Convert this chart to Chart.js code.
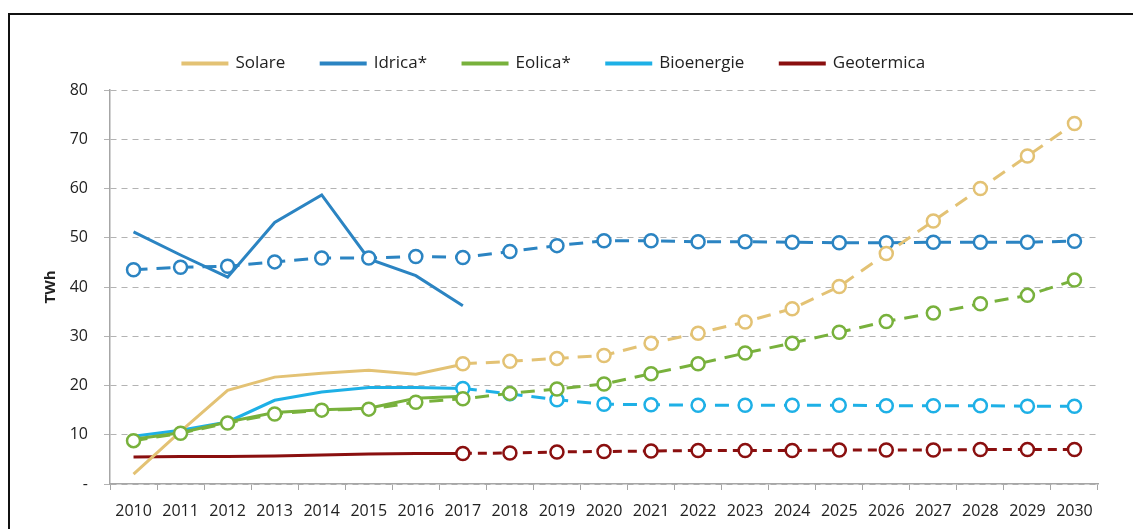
<!DOCTYPE html>
<html>
<head>
<meta charset="utf-8">
<script src="https://cdn.jsdelivr.net/npm/chart.js@4.4.1/dist/chart.umd.min.js"></script>
<style>
  body { margin: 0; background: #fff; }
  #wrap { position: relative; width: 1133px; height: 529px; }
  #frame { position: absolute; left: 8px; top: 13px; width: 2000px; height: 2000px;
           border-left: 2px solid #111; border-top: 2px solid #111; pointer-events: none; }
</style>
</head>
<body>
<div id="wrap">
  <canvas id="energyChart" width="1133" height="529"></canvas>
  <div id="frame"></div>
</div>
<script>
const years = ['2010', '2011', '2012', '2013', '2014', '2015', '2016', '2017', '2018', '2019', '2020',
               '2021', '2022', '2023', '2024', '2025', '2026', '2027', '2028', '2029', '2030'];

// historic values 2010-2017 (solid lines)
const solareStorico = [2, 10.7, 19, 21.7, 22.5, 23.1, 22.3, 24.3];
const idricaStorico = [51.2, 46.5, 42, 53.1, 58.7, 45.7, 42.3, 36.2];
const eolicaStorico = [9.1, 10.4, 12.6, 14.5, 15.1, 15.4, 17.4, 17.8];
const bioStorico = [9.7, 10.9, 12.6, 17, 18.7, 19.6, 19.6, 19.4];
const geoStorico = [5.5, 5.6, 5.6, 5.7, 5.9, 6.1, 6.2, 6.2];

// scenario values (dashed lines with circles)
const solareScenario = [null, null, null, null, null, null, null,
  24.4, 24.9, 25.5, 26.1, 28.6, 30.6, 32.9, 35.6, 40.1, 46.8, 53.4, 60, 66.6, 73.2];
const idricaScenario = [43.5, 44, 44.2, 45.1, 45.9, 45.9, 46.2, 46, 47.2, 48.4, 49.4,
  49.4, 49.2, 49.2, 49.1, 49, 49, 49.1, 49.1, 49.1, 49.3];
const eolicaScenario = [8.8, 10.3, 12.4, 14.2, 15, 15.2, 16.6, 17.3, 18.4, 19.3, 20.3,
  22.4, 24.4, 26.6, 28.6, 30.8, 33, 34.7, 36.6, 38.3, 41.4];
const bioScenario = [null, null, null, null, null, null, null,
  19.4, 18.3, 17.1, 16.2, 16.1, 16, 16, 16, 16, 15.9, 15.9, 15.9, 15.8, 15.8];
const geoScenario = [null, null, null, null, null, null, null,
  6.2, 6.3, 6.5, 6.6, 6.7, 6.8, 6.8, 6.8, 6.9, 6.9, 6.9, 7, 7, 7];

const yTicks = [0, 10, 20, 30, 40, 50, 60, 70, 80];

const colori = {
  solare: '#E3C274',
  idrica: '#2B84C2',
  eolica: '#78B13C',
  bio: '#1EB0E6',
  geo: '#8A0F0F'
};

function storico(label, data, color) {
  return {
    label: label,
    data: data,
    borderColor: color,
    backgroundColor: color,
    borderWidth: 3,
    pointRadius: 0,
    tension: 0,
    order: 2
  };
}

function scenario(label, data, color, dash) {
  return {
    label: label,
    data: data,
    borderColor: color,
    backgroundColor: color,
    borderWidth: 3,
    borderDash: dash,
    pointRadius: 6.5,
    pointBorderWidth: 2.5,
    pointBackgroundColor: '#fff',
    pointBorderColor: color,
    tension: 0,
    order: 1
  };
}

// a bit of extra room under the legend
const legendSpace = {
  id: 'legendSpace',
  beforeInit(chart) {
    const fit = chart.legend.fit;
    chart.legend.fit = function() {
      fit.bind(chart.legend)();
      this.height += 8;
    };
  }
};

const font = "'Open Sans', 'Liberation Sans', sans-serif";

const ctx = document.getElementById('energyChart').getContext('2d');
const chart = new Chart(ctx, {
  type: 'line',
  data: {
    labels: years,
    datasets: [
      storico('Solare', solareStorico, colori.solare),
      storico('Idrica*', idricaStorico, colori.idrica),
      storico('Eolica*', eolicaStorico, colori.eolica),
      storico('Bioenergie', bioStorico, colori.bio),
      storico('Geotermica', geoStorico, colori.geo),
      scenario('Solare scenario', solareScenario, colori.solare, [14, 9]),
      scenario('Idrica scenario', idricaScenario, colori.idrica, [14, 9]),
      scenario('Eolica scenario', eolicaScenario, colori.eolica, [14, 9]),
      scenario('Bioenergie scenario', bioScenario, colori.bio, [14, 9]),
      scenario('Geotermica scenario', geoScenario, colori.geo, [9, 6])
    ]
  },
  plugins: [legendSpace],
  options: {
    responsive: false,
    animation: false,
    layout: { padding: { top: 19, left: 10, right: 35, bottom: 0 } },
    plugins: {
      tooltip: { enabled: false },
      legend: {
        position: 'top',
        labels: {
          filter: item => item.datasetIndex < 5,
          boxWidth: 44,
          boxHeight: 1,
          padding: 36,
          color: '#222',
          font: { family: font, size: 17 }
        }
      }
    },
    scales: {
      x: {
        offset: true,
        afterFit: s => { s.height = 45; },
        grid: {
          offset: true,
          drawOnChartArea: false,
          drawTicks: true,
          tickLength: 6,
          color: '#a6a6a6'
        },
        border: { color: '#a6a6a6', width: 1.5 },
        ticks: {
          color: '#222',
          padding: 12,
          maxRotation: 0,
          autoSkip: false,
          font: { family: font, size: 16 }
        }
      },
      y: {
        min: 0,
        max: 80,
        afterFit: s => { s.width = 100; },
        afterBuildTicks: s => { s.ticks = yTicks.map(v => ({ value: v })); },
        grid: {
          color: '#b3b3b3',
          tickLength: 6,
          tickColor: '#b3b3b3'
        },
        border: { color: '#a6a6a6', width: 1.5, dash: [6, 5] },
        ticks: {
          color: '#222',
          padding: 16,
          font: { family: font, size: 16 },
          callback: v => (v === 0 ? '-' : v)
        },
        title: {
          display: true,
          text: 'TWh',
          color: '#222',
          padding: { top: 32, bottom: 0 },
          font: { family: font, size: 15, weight: 'bold' }
        }
      }
    }
  }
});
</script>
</body>
</html>
